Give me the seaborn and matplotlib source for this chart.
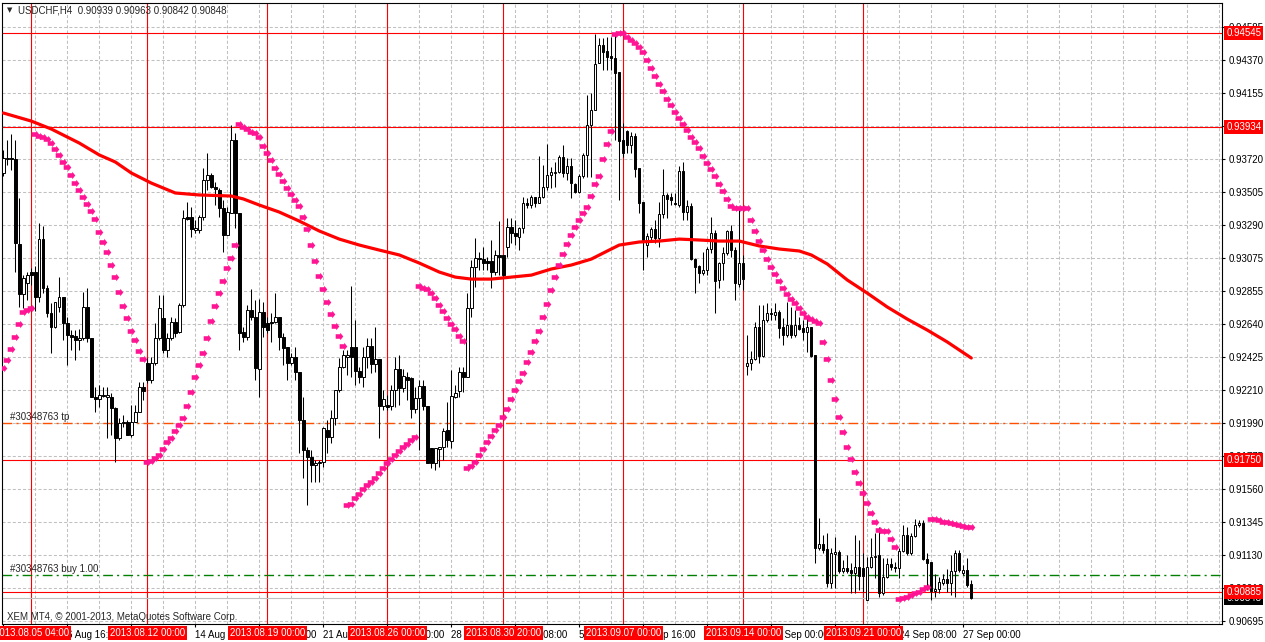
import matplotlib
matplotlib.use("Agg")
import matplotlib.pyplot as plt
from matplotlib.path import Path
import numpy as np
import pandas as pd
import seaborn as sns

# USDCHF H4 candles, bar 0 = 2 Aug 2013 00:00 ... bar 242 = 27 Sep 2013 04:00
opens = [
    .93629, .93721, .93728, .93721, .93165, .92837, .92909, .92981, .92981, .92817,
    .93197, .92877, .92712, .92621, .92752, .92817, .92647, .92568, .92562, .92536,
    .92549, .92752, .92549, .92162, .92149, .92175, .92162, .92162, .92091, .91894,
    .91992, .91999, .91913, .91999, .92064, .92228, .92385, .92274, .92385, .92549,
    .92680, .92470, .92549, .92654, .92588, .92765, .93342, .93342, .93256, .93256,
    .93342, .93584, .93617, .93538, .93518, .93400, .93224, .93368, .93846, .93368,
    .92588, .92555, .92732, .92686, .92346, .92719, .92647, .92654, .92654, .92686,
    .92555, .92490, .92385, .92424, .92326, .92012, .91815, .91770, .91717, .91730,
    .91737, .91946, .91900, .92025, .92208, .92359, .92424, .92490, .92490, .92333,
    .92294, .92424, .92496, .92378, .92411, .92103, .92110, .92103, .92208, .92346,
    .92221, .92294, .92287, .92084, .92156, .92234, .92103, .91828, .91730, .91822,
    .91835, .91946, .91874, .92162, .92201, .92326, .92294, .92746, .93014, .93073,
    .93066, .93053, .93053, .92981, .93093, .93093, .93145, .93276, .93237, .93210,
    .93269, .93433, .93420, .93472, .93433, .93472, .93538, .93617, .93629, .93636,
    .93734, .93629, .93675, .93558, .93505, .93610, .93748, .93944, .94042, .94350,
    .94468, .94429, .94396, .94383, .94291, .93846, .93905, .93813, .93872, .93662,
    .93440, .93158, .93210, .93263, .93204, .93361, .93486, .93472, .93433, .93420,
    .93643, .93374, .93414, .93066, .93021, .92975, .92994, .93132, .93237, .92929,
    .93040, .93106, .93250, .93125, .92903, .93040, .92365, .92385, .92411, .92621,
    .92431, .92667, .92712, .92700, .92719, .92621, .92568, .92634, .92568, .92634,
    .92615, .92588, .92621, .92438, .91174, .91200, .91167, .90944, .91134, .91147,
    .91023, .91042, .91029, .91010, .91049, .91042, .90833, .91049, .91115, .91128,
    .90878, .90983, .91069, .91049, .91042, .91154, .91259, .91141, .91252, .91324,
    .91337, .91101, .91082, .90892, .90905, .90944, .90970, .90944, .91023, .91141,
    .91010, .91029, .90939,
]
highs = [
    .93780, .93846, .93885, .93846, .93466, .92961, .92981, .93008, .93021, .93302,
    .93283, .92896, .92778, .92785, .92948, .92817, .92686, .92601, .92601, .92608,
    .92850, .92877, .92549, .92228, .92241, .92228, .92228, .92188, .92097, .92025,
    .92045, .92012, .92110, .92110, .92261, .92261, .92418, .92424, .92647, .92831,
    .92831, .92581, .92686, .92680, .92778, .93387, .93440, .93407, .93322, .93355,
    .93662, .93760, .93629, .93571, .93532, .93453, .93407, .93944, .93891, .93368,
    .92621, .92765, .92870, .92798, .92805, .92785, .92686, .92712, .92843, .92686,
    .92581, .92490, .92450, .92490, .92326, .92162, .91835, .91815, .91750, .91750,
    .91966, .92012, .92077, .92208, .92418, .92470, .92470, .92889, .92667, .92359,
    .92490, .92549, .92549, .92621, .92411, .92208, .92175, .92241, .92424, .92438,
    .92346, .92326, .92294, .92228, .92274, .92274, .92103, .91828, .91828, .91835,
    .91960, .92130, .92339, .92241, .92359, .92359, .92843, .93060, .93204, .93112,
    .93145, .93080, .93191, .93125, .93315, .93093, .93335, .93335, .93322, .93276,
    .93472, .93466, .93486, .93472, .93741, .93682, .93819, .93669, .93702, .93748,
    .93813, .93728, .93728, .93564, .93623, .93760, .94141, .94154, .94540, .94514,
    .94514, .94521, .94521, .94547, .94291, .93957, .93911, .93898, .93891, .93662,
    .93440, .93237, .93276, .93322, .93440, .93656, .93499, .93499, .93499, .93675,
    .93702, .93453, .93433, .93073, .93027, .93112, .93145, .93342, .93256, .93047,
    .93145, .93256, .93289, .93145, .93387, .93093, .92569, .92464, .92654, .92765,
    .92765, .92778, .92746, .92778, .92732, .92680, .92785, .92752, .92732, .92686,
    .92667, .92680, .92621, .92438, .91370, .91259, .91272, .91174, .91246, .91160,
    .91095, .91128, .91075, .91259, .91226, .91141, .91115, .91239, .91272, .91311,
    .91108, .91108, .91108, .91082, .91174, .91324, .91311, .91272, .91364, .91357,
    .91357, .91141, .91082, .91003, .90983, .91003, .91036, .91128, .91160, .91160,
    .91062, .91108, .90963,
]
lows = [
    .93610, .93682, .93649, .92981, .92752, .92746, .92798, .92896, .92725, .92785,
    .92843, .92686, .92450, .92615, .92719, .92536, .92372, .92470, .92405, .92470,
    .92536, .92523, .92162, .92064, .92097, .92162, .91894, .91913, .91737, .91881,
    .91966, .91913, .91900, .91999, .92064, .92143, .92254, .92254, .92372, .92536,
    .92450, .92424, .92536, .92555, .92581, .92752, .93322, .93210, .93237, .93237,
    .93322, .93518, .93532, .93420, .93342, .93112, .93224, .93368, .93269, .92470,
    .92523, .92536, .92667, .92274, .92162, .92555, .92581, .92523, .92647, .92470,
    .92372, .92274, .92372, .92274, .91795, .91632, .91455, .91606, .91606, .91606,
    .91704, .91795, .91861, .91979, .92195, .92352, .92307, .92294, .92241, .92254,
    .92228, .92352, .92319, .92326, .91894, .92077, .92077, .92077, .92097, .92110,
    .92195, .92143, .92025, .92058, .91815, .92077, .91730, .91697, .91684, .91704,
    .91750, .91835, .91828, .92156, .92162, .92195, .92294, .92686, .92883, .92994,
    .92994, .92994, .92877, .92961, .92961, .92948, .93080, .93171, .93158, .93125,
    .93237, .93400, .93400, .93407, .93433, .93466, .93518, .93532, .93538, .93629,
    .93603, .93584, .93466, .93499, .93499, .93597, .93603, .93603, .94042, .94350,
    .94304, .94304, .94304, .93846, .93453, .93734, .93760, .93760, .93603, .93368,
    .92994, .93080, .93191, .93171, .93145, .93335, .93335, .93420, .93420, .93407,
    .93322, .93322, .93060, .92843, .92909, .92961, .92961, .93106, .92712, .92877,
    .92929, .93093, .93080, .92798, .92883, .92863, .92307, .92339, .92405, .92385,
    .92424, .92654, .92667, .92667, .92549, .92503, .92555, .92549, .92555, .92601,
    .92536, .92457, .92424, .91075, .91160, .91141, .90918, .90911, .90911, .91010,
    .91010, .91010, .90878, .90878, .90898, .90885, .90833, .91042, .90977, .90852,
    .90866, .90977, .91029, .91016, .90977, .91147, .91128, .91128, .91246, .91311,
    .91095, .90898, .90833, .90852, .90878, .90931, .90885, .90866, .90852, .91016,
    .90997, .90918, .90842,
]
closes = [
    .93728, .93728, .93721, .93171, .92837, .92942, .92961, .92961, .92817, .93197,
    .92877, .92712, .92621, .92785, .92817, .92647, .92568, .92555, .92536, .92549,
    .92752, .92549, .92162, .92149, .92175, .92169, .92175, .92091, .91894, .91992,
    .91999, .91913, .91999, .92064, .92228, .92201, .92274, .92385, .92549, .92746,
    .92470, .92549, .92654, .92581, .92765, .93335, .93328, .93263, .93269, .93342,
    .93584, .93617, .93538, .93525, .93400, .93224, .93374, .93846, .93368, .92581,
    .92555, .92732, .92686, .92352, .92719, .92621, .92601, .92647, .92686, .92555,
    .92483, .92385, .92424, .92326, .92012, .91815, .91770, .91717, .91730, .91737,
    .91960, .91900, .92025, .92208, .92359, .92438, .92438, .92424, .92333, .92294,
    .92424, .92496, .92378, .92411, .92103, .92149, .92097, .92208, .92346, .92221,
    .92300, .92274, .92084, .92156, .92234, .92103, .91730, .91730, .91828, .91835,
    .91940, .91881, .92169, .92188, .92326, .92294, .92746, .93014, .93073, .93066,
    .93040, .93040, .92981, .93093, .93080, .92961, .93276, .93237, .93217, .93269,
    .93433, .93420, .93472, .93433, .93472, .93538, .93617, .93636, .93636, .93734,
    .93629, .93675, .93564, .93505, .93610, .93748, .93944, .94042, .94344, .94468,
    .94422, .94390, .94383, .94285, .93839, .93760, .93813, .93872, .93656, .93433,
    .93191, .93217, .93263, .93204, .93361, .93486, .93459, .93453, .93427, .93643,
    .93374, .93414, .93066, .93014, .92975, .92994, .93132, .93237, .92922, .93040,
    .93106, .93250, .93125, .92909, .93040, .92935, .92385, .92411, .92621, .92431,
    .92667, .92712, .92706, .92719, .92615, .92568, .92634, .92568, .92634, .92608,
    .92588, .92621, .92431, .91174, .91200, .91160, .90944, .91141, .91147, .91023,
    .91042, .91023, .91010, .91049, .90990, .90990, .91049, .91115, .91121, .90878,
    .90983, .91069, .91049, .91042, .91154, .91259, .91141, .91252, .91324, .91337,
    .91101, .91075, .90892, .90905, .90951, .90970, .90944, .91023, .91141, .91029,
    .91029, .90931, .90848,
]

# Parabolic SAR, one dot per bar
sar = [
    .92352, .92405, .92477, .92555, .92641, .92719, .92732, .92746, .93885, .93872,
    .93865, .93852, .93826, .93787, .93748, .93702, .93669, .93617, .93564, .93518,
    .93472, .93427, .93381, .93328, .93243, .93178, .93112, .93027, .92948, .92850,
    .92759, .92680, .92595, .92536, .92464, .92411, .91737, .91743, .91763, .91783,
    .91822, .91868, .91894, .91940, .91979, .92025, .92103, .92195, .92294, .92372,
    .92450, .92549, .92660, .92759, .92843, .92922, .93008, .93073, .93158, .93951,
    .93931, .93918, .93898, .93891, .93865, .93807, .93761, .93715, .93662, .93623,
    .93577, .93531, .93492, .93453, .93414, .93342, .93263, .93158, .93053, .92955,
    .92870, .92785, .92706, .92628, .92562, .92496, .91455, .91462, .91501, .91527,
    .91560, .91586, .91606, .91632, .91665, .91697, .91730, .91756, .91783, .91809,
    .91835, .91855, .91881, .91900, .92890, .92877, .92870, .92843, .92811, .92765,
    .92725, .92680, .92641, .92608, .92562, .92529, .91697, .91711, .91737, .91783,
    .91822, .91868, .91907, .91946, .91979, .92032, .92084, .92149, .92208, .92267,
    .92320, .92392, .92457, .92529, .92595, .92686, .92772, .92863, .92948, .93027,
    .93099, .93165, .93224, .93276, .93322, .93368, .93407, .93479, .93558, .93610,
    .93721, .93820, .93905, .94540, .94547, .94547, .94521, .94501, .94481, .94455,
    .94422, .94370, .94318, .94265, .94213, .94167, .94115, .94075, .94029, .93990,
    .93951, .93911, .93865, .93833, .93794, .93741, .93695, .93656, .93610, .93558,
    .93512, .93460, .93414, .93401, .93401, .93401, .93401, .93322, .93250, .93184,
    .93125, .93066, .93014, .92968, .92922, .92877, .92837, .92805, .92778, .92746,
    .92712, .92686, .92673, .92660, .92647, .92523, .92411, .92274, .92149, .92032,
    .91933, .91835, .91756, .91671, .91599, .91534, .91468, .91403, .91344, .91291,
    .91285, .91285, .91232, .91180, .90839, .90846, .90852, .90866, .90878, .90885,
    .90905, .90918, .91364, .91364, .91357, .91344, .91344, .91337, .91331, .91324,
    .91318, .91311, .91311,
]

# moving average, read at these bars
ma_bar = [0, 7, 12, 19, 24, 28, 32, 37, 43, 49, 57, 60, 64, 69, 74, 79, 84, 89, 94,
          99, 104, 109, 113, 117, 122, 127, 132, 137, 142, 147, 151, 154, 159, 164,
          169, 174, 179, 184, 189, 194, 199, 202, 206, 211, 216, 221, 226, 231, 236, 242]
ma_val = [.94023, .93970, .93918, .93826, .93748, .93702, .93630, .93564, .93499, .93486,
          .93479, .93460, .93420, .93374, .93315, .93250, .93197, .93158, .93125, .93093,
          .93040, .92981, .92948, .92935, .92935, .92948, .92961, .93001, .93027, .93066,
          .93119, .93158, .93178, .93184, .93197, .93191, .93184, .93184, .93152, .93132,
          .93119, .93093, .93034, .92929, .92843, .92752, .92673, .92601, .92523, .92418]

price_ticks = [0.94585, 0.94370, 0.94155, 0.93940, 0.93720, 0.93505, 0.93290, 0.93075,
               0.92855, 0.92640, 0.92425, 0.92210, 0.91990, 0.91775, 0.91560, 0.91345,
               0.91130, 0.90910, 0.90695]
red_levels = [0.94545, 0.93934, 0.91750, 0.90885]
tp_level = 0.91990
buy_level = 0.90996
bid = 0.90848

vline_bars = [7, 36, 66, 96, 125, 155, 185, 215]
vline_labels = ["2013.08.05 04:00", "2013.08.12 00:00", "2013.08.19 00:00", "2013.08.26 00:00",
                "2013.08.30 20:00", "2013.09.07 00:00", "2013.09.14 00:00", "2013.09.21 00:00"]
time_bars = [0, 16, 32, 48, 64, 80, 96, 112, 128, 144, 160, 176, 192, 208, 224, 240]
time_labels = ["2 Aug 00:00", "6 Aug 16:00", "9 Aug 08:00", "14 Aug 00:00", "16 Aug 16:00",
               "21 Aug 08:00", "26 Aug 00:00", "28 Aug 16:00", "2 Sep 08:00", "5 Sep 00:00",
               "9 Sep 16:00", "12 Sep 08:00", "17 Sep 00:00", "19 Sep 16:00", "24 Sep 08:00",
               "27 Sep 00:00"]

sns.set_style("white")
plt.rcParams["font.family"] = ["Liberation Sans", "DejaVu Sans"]
plt.rcParams["lines.scale_dashes"] = False

df = pd.DataFrame({"bar": np.arange(len(closes)), "open": opens, "high": highs,
                   "low": lows, "close": closes, "sar": sar})

fig = plt.figure(figsize=(12.65, 6.42), dpi=100)
ax = fig.add_axes([2 / 1265, 18 / 642, 1220 / 1265, 621 / 642])
ax.set_xlim(-0.325, 304.675)
ax.set_ylim(0.906758, 0.947434)

# grid
for p in price_ticks:
    ax.axhline(p, color="#c0c0c0", lw=0.75, ls=(0, (2.2, 1.5)), zorder=0.5)
for b in range(8, 305, 8):
    ax.axvline(b, color="#c0c0c0", lw=0.75, ls=(0, (2.2, 1.5)), zorder=0.5)

# objects
for lv in red_levels:
    ax.axhline(lv, color="red", lw=0.8, zorder=1.5)
for b in vline_bars:
    ax.axvline(b, color="red", lw=0.8, zorder=1.5)
ax.axhline(tp_level, color="#ff5000", lw=1.0, ls=(0, (7, 3, 1.5, 3)), zorder=1.5)
ax.axhline(buy_level, color="#008000", lw=1.0, ls=(0, (7, 3, 1.5, 3)), zorder=1.5)
ax.axhline(bid, color="#c0c0c0", lw=0.8, zorder=1.5)

# candles
up = df["close"] >= df["open"]
ax.vlines(df["bar"], df["low"], df["high"], color="black", lw=0.75, zorder=3)
ax.bar(df["bar"], (df["close"] - df["open"]).abs(), bottom=df[["open", "close"]].min(axis=1),
       width=0.6, color=np.where(up, "white", "black"), edgecolor="black",
       linewidth=0.7, zorder=4)

# moving average
sns.lineplot(x=ma_bar, y=ma_val, color="red", linewidth=2.3, ax=ax, zorder=5)

# parabolic SAR
arrow = Path([(-1, -0.6), (0.2, -0.6), (0.2, -1), (1, 0), (0.2, 1),
              (0.2, 0.6), (-1, 0.6), (-1, -0.6)])
sns.scatterplot(data=df, x="bar", y="sar", marker=arrow, s=30, color="#ff1493",
                linewidth=0, ax=ax, zorder=6, legend=False)

# axes styling
ax.set_xlabel("")
ax.set_ylabel("")
for s in ax.spines.values():
    s.set_color("black")
    s.set_linewidth(0.8)
ax.yaxis.tick_right()
ax.set_yticks(price_ticks)
ax.set_yticklabels([f"{p:.5f}" for p in price_ticks])
ax.set_xticks(time_bars)
ax.set_xticklabels(time_labels, ha="left")
ax.tick_params(axis="y", direction="out", length=2.5, width=0.8, pad=2, labelsize=7,
               colors="black", right=True, left=False)
ax.tick_params(axis="x", direction="out", length=2.5, width=0.8, pad=1.5, labelsize=7,
               colors="black", bottom=True)

# price boxes on the right
ax.text(1.0035, bid, f"{bid:.5f}", transform=ax.get_yaxis_transform(), ha="left",
        va="center", color="white", fontsize=7, clip_on=False, zorder=10,
        bbox=dict(boxstyle="square,pad=0.2", fc="black", ec="none"))
for lv in red_levels:
    ax.text(1.0035, lv, f"{lv:.5f}", transform=ax.get_yaxis_transform(), ha="left",
            va="center", color="white", fontsize=7, clip_on=False, zorder=11,
            bbox=dict(boxstyle="square,pad=0.2", fc="red", ec="none"))

# date boxes under the vertical lines
for b, lab in zip(vline_bars, vline_labels):
    ax.text(b, -0.0145, lab, transform=ax.get_xaxis_transform(), ha="center",
            va="center", color="white", fontsize=7, clip_on=False, zorder=10,
            bbox=dict(boxstyle="square,pad=0.2", fc="red", ec="none"))

# texts
fig.text(7 / 1265, 1 - 10.5 / 642, "\u25bc", fontsize=5, va="center",
         family=["DejaVu Sans"])
fig.text(18 / 1265, 1 - 10.5 / 642, "USDCHF,H4  0.90939 0.90963 0.90842 0.90848",
         fontsize=7, va="center")
fig.text(10 / 1265, 1 - 417 / 642, "#30348763 tp", fontsize=7, va="center")
fig.text(10 / 1265, 1 - 569 / 642, "#30348763 buy 1.00", fontsize=7, va="center")
fig.text(7 / 1265, 1 - 617 / 642, "XEM MT4, \u00a9 2001-2013, MetaQuotes Software Corp.",
         fontsize=7, va="center")

fig.savefig("out.png", dpi=100, facecolor="white")
